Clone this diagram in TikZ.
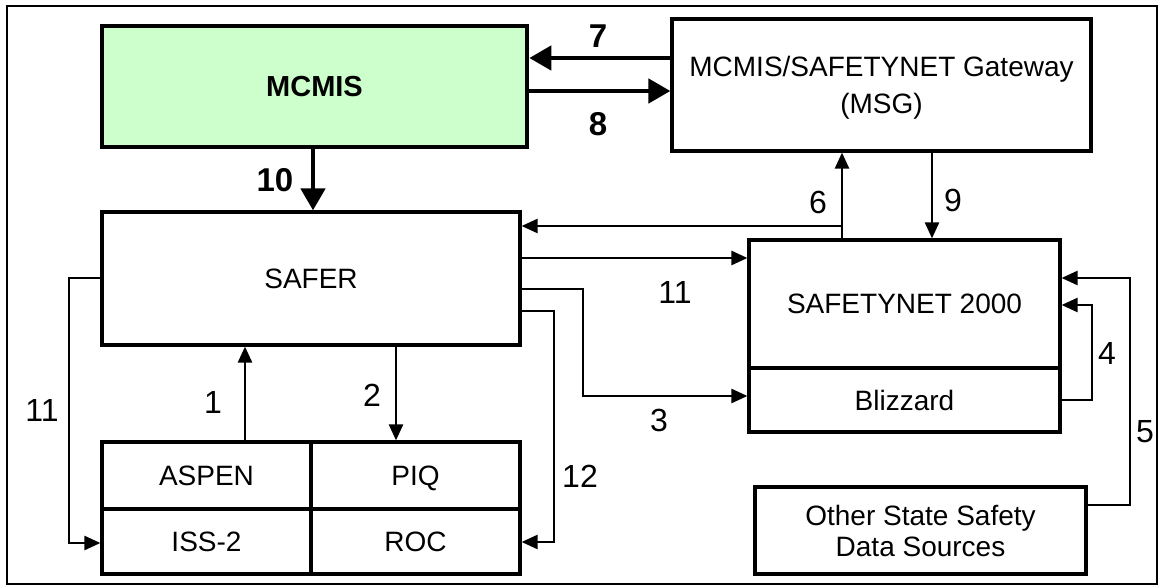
\documentclass[tikz,border=0pt]{standalone}
\usepackage{fontspec}
\setmainfont{Liberation Sans}
\usetikzlibrary{arrows.meta}
\definecolor{mcgreen}{RGB}{204,255,204}
\begin{document}
\begin{tikzpicture}[x=1bp,y=-1bp,
  box/.style={draw, line width=3.2bp, rectangle, inner sep=0pt, align=center,
    font=\fontsize{28bp}{33bp}\selectfont},
  thinarrow/.style={line width=2.5bp, -{Triangle[length=16bp,width=14bp]}},
  thickarrow/.style={line width=4.6bp, -{Triangle[length=22bp,width=24bp]}},
  lbl/.style={font=\fontsize{32bp}{36bp}\selectfont, inner sep=0pt},
  blbl/.style={font=\bfseries\fontsize{33bp}{36bp}\selectfont, inner sep=0pt}
]
\useasboundingbox (0,0) rectangle (1164,588);
\draw[line width=2.3bp] (7,6) rectangle (1157,584);

% boxes
\node[box, line width=4.6bp, fill=mcgreen, minimum width=425bp, minimum height=121bp,
  font=\bfseries\fontsize{29bp}{33bp}\selectfont] (MCMIS) at (314.5,86.5) {MCMIS};
\node[box, minimum width=419bp, minimum height=132bp, text depth=-3bp,
  font=\fontsize{28bp}{37bp}\selectfont] (MSG) at (881.5,85) {MCMIS/SAFETYNET Gateway\\(MSG)};
\node[box, minimum width=418bp, minimum height=133bp] (SAFER) at (311,278.5) {SAFER};
\node[box, minimum width=311bp, minimum height=128bp] (SN) at (904.5,304) {SAFETYNET 2000};
\node[box, minimum width=311bp, minimum height=64bp] (BLZ) at (904.5,400) {Blizzard};
\node[box, minimum width=209bp, minimum height=67bp] (ASPEN) at (206.5,475.5) {ASPEN};
\node[box, minimum width=209bp, minimum height=67bp, text depth=0pt] (PIQ) at (415.5,475.5) {PIQ};
\node[box, minimum width=209bp, minimum height=65bp] (ISS) at (206.5,541.5) {ISS-2};
\node[box, minimum width=209bp, minimum height=65bp] (ROC) at (415.5,541.5) {ROC};
\node[box, minimum width=331bp, minimum height=87bp,
  font=\fontsize{28bp}{31bp}\selectfont] (OSS) at (920.5,530.5) {Other State Safety\\Data Sources};

% thick connectors
\draw[thickarrow] (MSG.west |- 0,58) -- (MCMIS.east |- 0,58);
\draw[thickarrow] (MCMIS.east |- 0,91) -- (MSG.west |- 0,91);
\draw[thickarrow] (MCMIS.south -| 313,0) -- (SAFER.north -| 313,0);

% thin connectors
\coordinate (j6) at (842,226);
\draw[thinarrow] (SN.north -| j6) -- (MSG.south -| j6);
\draw[thinarrow] (j6) -- (SAFER.east |- j6);
\draw[thinarrow] (MSG.south -| 932,0) -- (SN.north -| 932,0);
\draw[thinarrow] (SAFER.east |- 0,258) -- (SN.west |- 0,258);
\draw[thinarrow] (SAFER.east |- 0,289) -- (583,289) -- (583,396) -- (BLZ.west |- 0,396);
\draw[thinarrow] (SAFER.east |- 0,311) -- (554,311) -- (554,542) -- (ROC.east |- 0,542);
\draw[thinarrow] (SAFER.west |- 0,278) -- (69,278) -- (69,543) -- (ISS.west |- 0,543);
\draw[thinarrow] (ASPEN.north -| 245,0) -- (SAFER.south -| 245,0);
\draw[thinarrow] (SAFER.south -| 396,0) -- (PIQ.north -| 396,0);
\draw[thinarrow] (BLZ.east |- 0,400) -- (1092,400) -- (1092,305) -- (SN.east |- 0,305);
\draw[thinarrow] (OSS.east |- 0,505) -- (1130,505) -- (1130,278) -- (SN.east |- 0,278);

% labels
\node[blbl] (l7) at (598,36) {7};
\node[blbl] (l8) at (598,124) {8};
\node[blbl] (l10) at (275,180) {10};
\node[lbl] (l6) at (818,202) {6};
\node[lbl] (l9) at (953,200) {9};
\node[lbl] (l11a) at (675,292) {11};
\node[lbl] (l3) at (659,420) {3};
\node[lbl] (l12) at (580,476) {12};
\node[lbl] (l1) at (213,402) {1};
\node[lbl] (l2) at (372,395) {2};
\node[lbl] (l11b) at (42,410) {11};
\node[lbl] (l4) at (1107,353) {4};
\node[lbl] (l5) at (1145,432) {5};
\end{tikzpicture}
\end{document}
